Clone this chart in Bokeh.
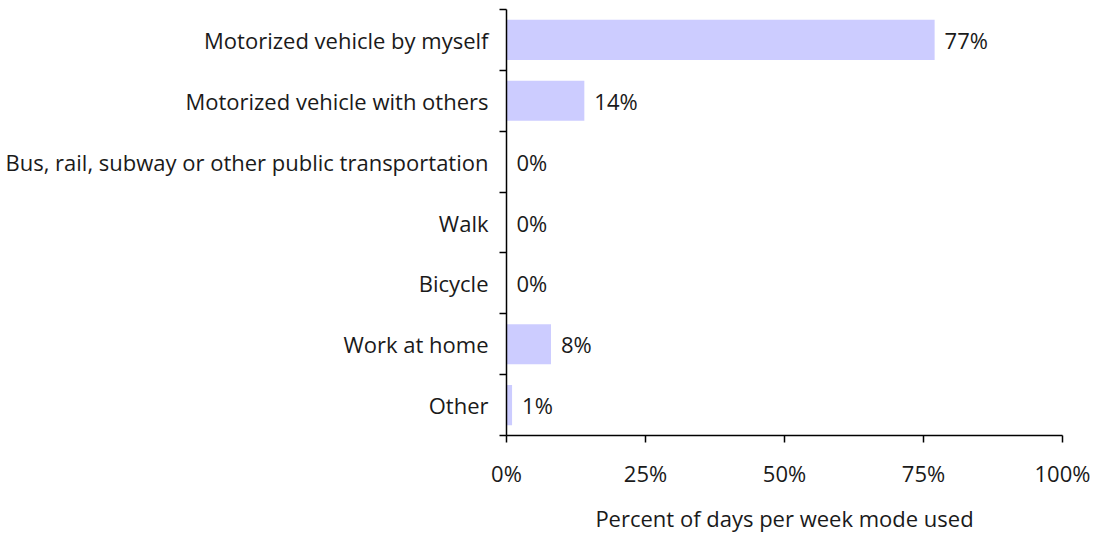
from bokeh.plotting import figure
from bokeh.models import FixedTicker, ColumnDataSource, Range1d
from bokeh.core.properties import value
from bokeh.embed import file_html
from bokeh.resources import INLINE

categories = ["Motorized vehicle by myself", "Motorized vehicle with others",
              "Bus, rail, subway or other public transportation", "Walk", "Bicycle",
              "Work at home", "Other"]
values = [77, 14, 0, 0, 0, 8, 1]
x_ticks = [0, 25, 50, 75, 100]
x_tick_labels = ["0%", "25%", "50%", "75%", "100%"]

FONT = "Open Sans"
FS = "22px"
TXT = "#1a1a1a"
n = len(categories)
ypos = [n - i - 0.5 for i in range(n)]
labels = [f"{v}%" for v in values]
src = ColumnDataSource(dict(y=ypos, v=values, lab=labels, cat=categories))

p = figure(width=1094, height=535, output_backend="svg", toolbar_location=None,
           x_range=Range1d(0, 100), y_range=Range1d(0, n),
           min_border_left=506, min_border_right=32, min_border_top=9, min_border_bottom=100)
p.outline_line_color = None
p.xgrid.visible = False
p.ygrid.visible = False

p.hbar(y="y", left=0, right="v", height=0.66, source=src, fill_color="#ccccff", line_color=None)
p.text(x="v", y="y", text="lab", source=src, x_offset=10, text_align="left", text_baseline="middle",
       text_font=value(FONT), text_font_size=FS, text_color=TXT)

# x axis
p.xaxis.ticker = FixedTicker(ticks=x_ticks, minor_ticks=[])
p.xaxis.major_label_overrides = {t: l for t, l in zip(x_ticks, x_tick_labels)}
p.xaxis.axis_line_width = 1.5
p.xaxis.major_tick_line_width = 1.5
p.xaxis.major_tick_out = 7
p.xaxis.major_tick_in = 0
p.xaxis.major_label_standoff = 15
p.xaxis.axis_label = "Percent of days per week mode used"
p.xaxis.axis_label_standoff = 12
p.xaxis.axis_label_text_font_style = "normal"
p.xaxis.major_label_text_font = FONT
p.xaxis.axis_label_text_font = FONT
p.xaxis.major_label_text_font_size = FS
p.xaxis.axis_label_text_font_size = FS
p.xaxis.major_label_text_color = TXT
p.xaxis.axis_label_text_color = TXT

# y axis: labels at centers, ticks at category boundaries
p.yaxis.ticker = FixedTicker(ticks=ypos, minor_ticks=[float(i) for i in range(n + 1)])
p.yaxis.major_label_overrides = {y: c for y, c in zip(ypos, categories)}
p.yaxis.axis_line_width = 1.5
p.yaxis.major_tick_line_color = None
p.yaxis.major_tick_out = 0
p.yaxis.major_tick_in = 0
p.yaxis.minor_tick_line_color = "black"
p.yaxis.minor_tick_line_width = 1.5
p.yaxis.minor_tick_out = 7
p.yaxis.minor_tick_in = 0
p.yaxis.major_label_standoff = 11
p.yaxis.major_label_text_font = FONT
p.yaxis.major_label_text_font_size = FS
p.yaxis.major_label_text_color = TXT

open("out.html", "w").write(file_html(p, INLINE))
